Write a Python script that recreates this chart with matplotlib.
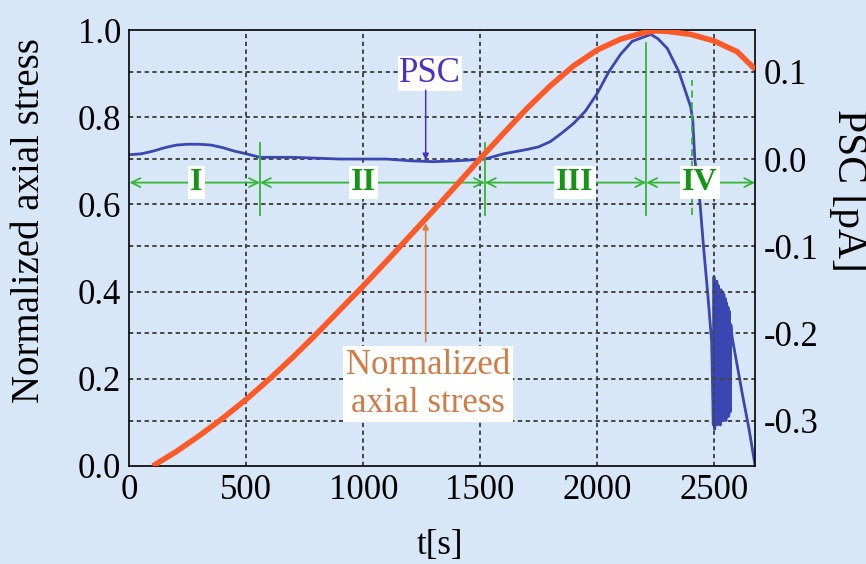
import numpy as np
import matplotlib
matplotlib.use("Agg")
import matplotlib.pyplot as plt

plt.rcParams['font.family'] = ['Liberation Serif', 'DejaVu Serif']

# normalized axial stress (left axis)
stress_t = [100, 200, 300, 400, 500, 600, 700, 800, 900, 1000, 1100, 1200, 1300,
            1400, 1500, 1600, 1700, 1800, 1900, 2000, 2100, 2200, 2250, 2300,
            2400, 2500, 2600, 2676]
stress_v = [0.0, 0.033, 0.07, 0.11, 0.153, 0.2, 0.25, 0.303, 0.358, 0.413, 0.47,
            0.528, 0.586, 0.645, 0.705, 0.763, 0.82, 0.872, 0.918, 0.954, 0.979,
            0.994, 0.998, 0.997, 0.99, 0.975, 0.95, 0.91]

# PSC [pA] (right axis)
psc_t = [0, 50, 100, 150, 200, 250, 300, 350, 400, 450, 500, 558, 600, 700, 800,
         900, 1000, 1100, 1200, 1300, 1400, 1520, 1600, 1700, 1750, 1800, 1850,
         1900, 1950, 2000, 2050, 2100, 2150, 2200, 2230, 2260, 2300, 2350, 2400,
         2409, 2418, 2440, 2455, 2475, 2490,
         2497, 2500, 2503, 2506, 2509, 2512, 2515, 2518, 2521, 2524, 2527, 2530,
         2533, 2536, 2539, 2542, 2545, 2548, 2551, 2554, 2557, 2560, 2563, 2566,
         2569, 2572,
         2578, 2600, 2625, 2650, 2676]
psc_v = [0.005, 0.006, 0.009, 0.013, 0.016, 0.017, 0.017, 0.016, 0.013, 0.009,
         0.006, 0.002, 0.002, 0.002, 0.001, 0.0, 0.0, 0.0, -0.002, -0.003, -0.002,
         0.0, 0.006, 0.011, 0.014, 0.02, 0.03, 0.041, 0.055, 0.075, 0.1, 0.12,
         0.135, 0.14, 0.143, 0.138, 0.127, 0.1, 0.06,
         0.045, 0.0, -0.05, -0.1, -0.16, -0.21,
         -0.305, -0.135, -0.31, -0.14, -0.30, -0.14, -0.305, -0.145, -0.30, -0.15,
         -0.305, -0.15, -0.30, -0.155, -0.30, -0.155, -0.295, -0.16, -0.30, -0.165,
         -0.295, -0.17, -0.295, -0.175, -0.29, -0.19,
         -0.205, -0.238, -0.275, -0.31, -0.352]

# stage boundaries and labels
bounds = [0, 558, 1520, 2210, 2676]
stages = ['I', 'II', 'III', 'IV']
stage_x = [285, 1000, 1905, 2440]
dashed_t = 2408

x_ticks = [0, 500, 1000, 1500, 2000, 2500]
left_ticks = [0.0, 0.2, 0.4, 0.6, 0.8, 1.0]
right_ticks = [-0.3, -0.2, -0.1, 0.0, 0.1]

green = '#35b535'
green_txt = '#169416'
orange = '#fb5a28'
blue = '#3a46b2'
grid_kw = dict(color='#454545', linestyle=(0, (2.2, 1.8)), linewidth=1.4)

fig = plt.figure(figsize=(8.66, 5.64), dpi=100, facecolor='#d8e7f7')
ax = fig.add_axes([0.1495, 0.1738, 0.7225, 0.7730])
ax2 = ax.twinx()

# right axis in the back, left axis on top
ax.set_zorder(ax2.get_zorder() + 1)
ax.patch.set_visible(False)
ax2.patch.set_facecolor('white')

ax.set_xlim(0, 2676)
ax.set_ylim(0, 1)
ax2.set_ylim(-0.352, 0.148)

for v in right_ticks:
    ax2.axhline(v, **grid_kw)
for v in left_ticks[1:-1]:
    ax.axhline(v, zorder=1, **grid_kw)
for t in x_ticks[1:]:
    ax.axvline(t, zorder=1, **grid_kw)

ax2.plot(psc_t, psc_v, color=blue, lw=2.0, zorder=3)

# green stage markers
for t in bounds[1:3]:
    ax.plot([t, t], [0.575, 0.74], color=green, lw=1.3, zorder=2)
ax.plot([bounds[3], bounds[3]], [0.575, 0.97], color=green, lw=1.3, zorder=2)
ax.plot([dashed_t, dashed_t], [0.575, 0.885], color=green, lw=1.3,
        linestyle=(0, (4, 2.5)), zorder=2)
for a, b, s, xs in zip(bounds[:-1], bounds[1:], stages, stage_x):
    ax.annotate('', xy=(b, 0.65), xytext=(a, 0.65),
                arrowprops=dict(arrowstyle='<->', color=green, lw=1.3,
                                shrinkA=0, shrinkB=0, mutation_scale=16),
                zorder=2)
    ax.text(xs, 0.65, s, color=green_txt, fontsize=23, fontweight='bold',
            ha='center', va='center', zorder=5,
            bbox=dict(facecolor='white', edgecolor='none', pad=1.5))

ax.plot(stress_t, stress_v, color=orange, lw=4, zorder=4, solid_capstyle='butt')

# annotations
ax.text(1285, 0.9, 'PSC', color='#4d2fc4', fontsize=25, ha='center',
        va='center', zorder=6,
        bbox=dict(facecolor='white', edgecolor='none', pad=1))
ax.annotate('', xy=(1267, 0.702), xytext=(1267, 0.862),
            arrowprops=dict(arrowstyle='-|>', color='#4d2fc4', lw=1.1,
                            shrinkA=0, shrinkB=0, mutation_scale=9), zorder=6)
ax.text(1278, 0.188, 'Normalized\naxial stress', color='#d47a45', fontsize=25,
        ha='center', va='center', linespacing=1.2, zorder=6,
        bbox=dict(facecolor='white', edgecolor='none', pad=2))
ax.annotate('', xy=(1267, 0.557), xytext=(1267, 0.285),
            arrowprops=dict(arrowstyle='-|>', color='#e07a3a', lw=1.1,
                            shrinkA=0, shrinkB=0, mutation_scale=9), zorder=6)

ax.set_xticks(x_ticks)
ax.set_yticks(left_ticks)
ax.set_yticklabels([f'{v:.1f}' for v in left_ticks])
ax2.set_yticks(right_ticks)
ax2.set_yticklabels([f'{v:.1f}' for v in right_ticks])
ax.tick_params(axis='both', length=0, labelsize=25, pad=6)
ax2.tick_params(axis='y', length=0, labelsize=25, pad=6)

for sp in ax.spines.values():
    sp.set_linewidth(1.2)
for sp in ax2.spines.values():
    sp.set_visible(False)

ax.set_xlabel('t[s]', fontsize=25)
ax.xaxis.set_label_coords(0.496, -0.145)
ax.set_ylabel('Normalized axial stress', fontsize=28)
ax.yaxis.set_label_coords(-0.13, 0.564)
ax2.set_ylabel('PSC [pA]', fontsize=30, rotation=-90, va='center')
ax2.yaxis.set_label_coords(1.148, 0.633)

fig.savefig('out.png', dpi=100, facecolor=fig.get_facecolor())
